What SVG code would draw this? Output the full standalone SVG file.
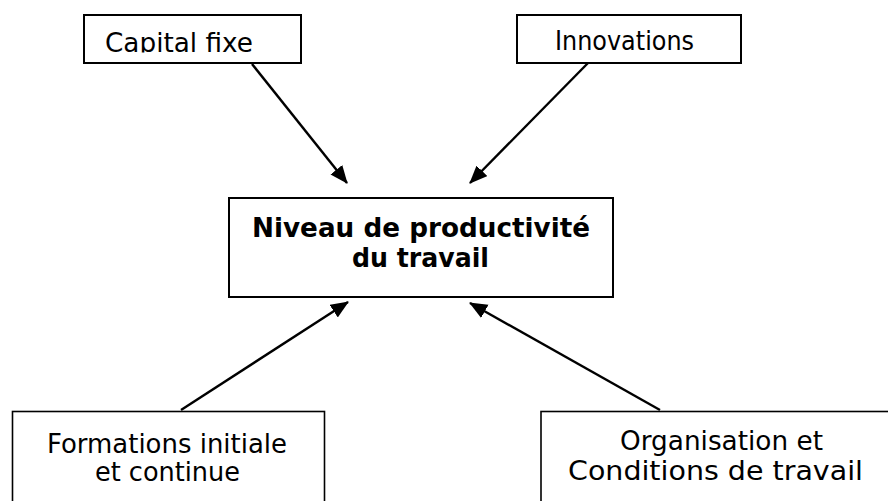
<svg xmlns="http://www.w3.org/2000/svg" width="888" height="501" viewBox="0 0 888 501">
<style>
  .box { fill: #ffffff; stroke: #000000; stroke-width: 2; }
  .box2 { fill: #ffffff; stroke: #000000; stroke-width: 1.6; }
  .t { font-family: "DejaVu Sans", Verdana, sans-serif; font-size: 26px; fill: #000000; }
  .tb { font-family: "DejaVu Sans", Verdana, sans-serif; font-size: 26px; font-weight: bold; fill: #000000; }
  .conn { stroke: #000000; stroke-width: 2.4; fill: none; marker-end: url(#arrow); }
</style>
<defs>
  <marker id="arrow" markerUnits="userSpaceOnUse" markerWidth="19" markerHeight="16" refX="17" refY="7.5" orient="auto">
    <path d="M0,0 L18,7.5 L0,15 z" fill="#000000"/>
  </marker>
  <clipPath id="clipCap">
    <rect x="84" y="15" width="217" height="37.5"/>
  </clipPath>
</defs>
<rect width="888" height="501" fill="#ffffff"/>
<g id="capital">
  <rect class="box" x="84" y="15" width="217" height="48"/>
  <text class="t" x="105" y="52" textLength="148" lengthAdjust="spacingAndGlyphs" clip-path="url(#clipCap)">Capital fixe</text>
</g>
<g id="innovations">
  <rect class="box" x="517" y="15" width="224" height="48"/>
  <text class="t" x="555" y="50" font-size="24" textLength="139" lengthAdjust="spacingAndGlyphs">Innovations</text>
</g>
<g id="niveau">
  <rect class="box" x="229" y="198" width="384" height="99"/>
  <text class="tb" x="252" y="237" textLength="338" lengthAdjust="spacingAndGlyphs">Niveau de productivité</text>
  <text class="tb" x="352" y="267" textLength="137" lengthAdjust="spacingAndGlyphs">du travail</text>
</g>
<g id="formations">
  <rect class="box2" x="12.5" y="411.5" width="312" height="110"/>
  <text class="t" x="47" y="453" font-size="23" textLength="240" lengthAdjust="spacingAndGlyphs">Formations initiale</text>
  <text class="t" x="95" y="481" font-size="23" textLength="145" lengthAdjust="spacingAndGlyphs">et continue</text>
</g>
<g id="organisation">
  <rect class="box2" x="541" y="411.5" width="360" height="110"/>
  <text class="t" x="620" y="450" textLength="203" lengthAdjust="spacingAndGlyphs">Organisation et</text>
  <text class="t" x="568" y="480" textLength="295" lengthAdjust="spacingAndGlyphs">Conditions de travail</text>
</g>
<g id="connectors">
  <line class="conn" x1="252" y1="64" x2="347" y2="183"/>
  <line class="conn" x1="588" y1="63" x2="470" y2="183"/>
  <line class="conn" x1="181" y1="410" x2="348" y2="302"/>
  <line class="conn" x1="660" y1="410" x2="470" y2="303"/>
</g>
</svg>
